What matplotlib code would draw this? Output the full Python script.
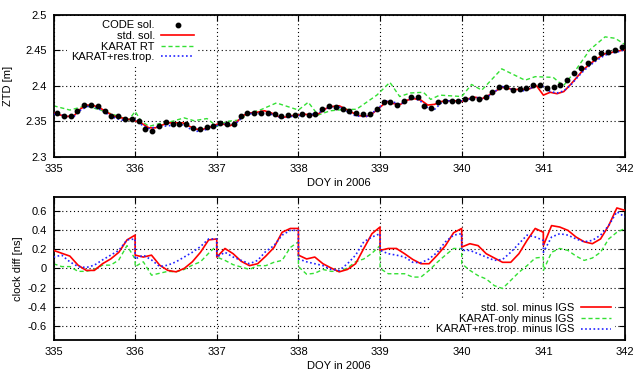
import numpy as np
import matplotlib
matplotlib.use('Agg')
import matplotlib.pyplot as plt
from matplotlib.ticker import FormatStrFormatter

plt.rcParams['font.family'] = ['Liberation Sans', 'DejaVu Sans']
plt.rcParams['font.size'] = 8

# ---- ZTD (top panel) ----
# CODE solution, every 2 hours (centred on odd hours)
code_t = 335 + (np.arange(84) + 0.5) / 12
code_ztd = [2.362, 2.358, 2.357, 2.365, 2.373, 2.373, 2.372, 2.365, 2.358, 2.357,
            2.354, 2.353, 2.350, 2.340, 2.336, 2.343, 2.349, 2.347, 2.347, 2.346,
            2.341, 2.340, 2.342, 2.344, 2.348, 2.347, 2.347, 2.358, 2.362, 2.362,
            2.362, 2.362, 2.360, 2.358, 2.359, 2.359, 2.360, 2.359, 2.360,
            2.367, 2.372, 2.370, 2.367, 2.364, 2.362, 2.361, 2.361, 2.368, 2.378,
            2.377, 2.373, 2.379, 2.385, 2.384, 2.372, 2.369, 2.377, 2.379, 2.379,
            2.379, 2.382, 2.383, 2.382, 2.385, 2.392, 2.398, 2.398, 2.394, 2.395,
            2.397, 2.401, 2.401, 2.397, 2.399, 2.401, 2.408, 2.418, 2.425, 2.432,
            2.439, 2.446, 2.448, 2.451, 2.455]

# standard solution and KARAT+res.trop., every 2 hours
std_t = 335 + np.arange(85) / 12
std_ztd = [2.362, 2.359, 2.357, 2.358, 2.368, 2.373, 2.372, 2.368, 2.362, 2.357,
           2.355, 2.353, 2.351, 2.347, 2.341, 2.341, 2.345, 2.348, 2.348, 2.348,
           2.343, 2.339, 2.339, 2.342, 2.346, 2.346, 2.344, 2.350, 2.359, 2.362,
           2.363, 2.365, 2.362, 2.357, 2.356, 2.358, 2.359, 2.360, 2.359, 2.361,
           2.368, 2.371, 2.372, 2.367, 2.362, 2.358, 2.357, 2.362, 2.370, 2.378,
           2.375, 2.374, 2.380, 2.382, 2.380, 2.373, 2.374, 2.378, 2.379, 2.379,
           2.378, 2.382, 2.384, 2.382, 2.387, 2.393, 2.398, 2.396, 2.395, 2.395,
           2.396, 2.400, 2.387, 2.391, 2.389, 2.392, 2.402, 2.413, 2.424, 2.432,
           2.439, 2.445, 2.447, 2.449, 2.451]
krt_ztd = [2.360, 2.360, 2.356, 2.357, 2.366, 2.371, 2.370, 2.366, 2.360, 2.355,
           2.352, 2.352, 2.352, 2.345, 2.340, 2.342, 2.343, 2.344, 2.345, 2.345,
           2.340, 2.336, 2.337, 2.341, 2.344, 2.347, 2.345, 2.349, 2.358, 2.361,
           2.361, 2.362, 2.360, 2.356, 2.355, 2.357, 2.358, 2.359, 2.360, 2.362,
           2.368, 2.370, 2.370, 2.365, 2.359, 2.357, 2.357, 2.363, 2.371, 2.379,
           2.377, 2.374, 2.380, 2.383, 2.378, 2.369, 2.367, 2.376, 2.379, 2.379,
           2.379, 2.381, 2.384, 2.382, 2.386, 2.393, 2.399, 2.396, 2.393, 2.393,
           2.396, 2.401, 2.399, 2.392, 2.390, 2.393, 2.401, 2.412, 2.422, 2.430,
           2.437, 2.443, 2.446, 2.448, 2.451]

# KARAT real time
rt_t = [335.0, 335.2, 335.4, 335.6, 335.8, 335.92, 336.0, 336.07, 336.17, 336.3,
        336.42, 336.6, 336.72, 336.88, 337.0, 337.12, 337.28, 337.4, 337.53, 337.73,
        338.0, 338.12, 338.24, 338.39, 338.59, 338.71, 338.96, 339.12, 339.24, 339.37,
        339.53, 339.62, 339.73, 340.0, 340.12, 340.245, 340.49, 340.775, 340.90, 341.12,
        341.245, 341.37, 341.57, 341.755, 341.88, 342.0]
rt_ztd = [2.372, 2.366, 2.372, 2.365, 2.357, 2.352, 2.364, 2.351, 2.343, 2.347,
          2.349, 2.355, 2.351, 2.354, 2.343, 2.350, 2.352, 2.362, 2.366, 2.376,
          2.366, 2.377, 2.359, 2.365, 2.367, 2.367, 2.387, 2.405, 2.385, 2.390,
          2.391, 2.381, 2.387, 2.385, 2.402, 2.394, 2.424, 2.408, 2.413, 2.412,
          2.400, 2.418, 2.451, 2.469, 2.467, 2.458]

# ---- clock differences (bottom panel), daily batches ----
days = range(335, 342)
clk_t = np.concatenate([d + np.append(np.arange(0, 1, 0.1), 0.999) for d in days])
std_clk = [0.19, 0.16, 0.13, 0.035, -0.02, -0.02, 0.05, 0.10, 0.17, 0.30, 0.35,
           0.14, 0.12, 0.14, 0.035, -0.02, -0.035, 0.0, 0.07, 0.17, 0.30, 0.31,
           0.12, 0.21, 0.155, 0.075, 0.03, 0.05, 0.13, 0.22, 0.38, 0.42, 0.42,
           0.14, 0.10, 0.12, 0.05, 0.005, -0.035, -0.01, 0.05, 0.21, 0.365, 0.435,
           0.19, 0.21, 0.21, 0.155, 0.095, 0.05, 0.05, 0.14, 0.24, 0.375, 0.42,
           0.225, 0.26, 0.24, 0.155, 0.11, 0.065, 0.065, 0.155, 0.295, 0.42, 0.38,
           0.24, 0.45, 0.435, 0.40, 0.33, 0.28, 0.26, 0.31, 0.45, 0.635, 0.61]
kar_clk = [0.05, 0.02, 0.02, -0.03, -0.03, -0.01, 0.035, 0.035, 0.09, 0.24, 0.10,
           0.02, 0.07, -0.07, -0.05, -0.03, -0.035, -0.01, 0.035, 0.07, 0.16, 0.24,
           0.12, 0.085, 0.04, 0.015, -0.01, 0.03, 0.03, 0.065, 0.085, 0.22, 0.28,
           0.02, -0.06, -0.05, -0.01, -0.03, -0.03, 0.005, 0.07, 0.10, 0.16, 0.24,
           0.0, -0.055, -0.055, -0.055, -0.09, -0.09, -0.02, 0.065, 0.14, 0.21, 0.21,
           0.05, -0.02, -0.075, -0.11, -0.18, -0.21, -0.125, -0.04, 0.03, 0.11, 0.12,
           -0.02, 0.17, 0.21, 0.19, 0.13, 0.085, 0.11, 0.17, 0.31, 0.38, 0.42]
krt_clk = [0.12, 0.14, 0.07, 0.02, 0.01, 0.035, 0.09, 0.14, 0.19, 0.30, 0.31,
           0.10, 0.14, 0.09, 0.02, 0.035, 0.07, 0.12, 0.17, 0.23, 0.31, 0.31,
           0.12, 0.17, 0.12, 0.085, 0.05, 0.085, 0.18, 0.24, 0.35, 0.40, 0.40,
           0.10, 0.07, 0.05, 0.03, -0.01, -0.02, 0.05, 0.14, 0.28, 0.33, 0.365,
           0.19, 0.155, 0.14, 0.12, 0.065, 0.06, 0.10, 0.17, 0.28, 0.35, 0.365,
           0.19, 0.19, 0.155, 0.12, 0.085, 0.095, 0.17, 0.26, 0.35, 0.33, 0.295,
           0.17, 0.33, 0.365, 0.35, 0.31, 0.28, 0.295, 0.35, 0.45, 0.595, 0.54]

RED = '#ff0000'
GREEN = '#33e033'
BLUE = '#2222ff'
grid_kw = dict(color='black', linestyle=(0, (1, 2.5)), linewidth=0.8)


def style_axes(ax):
    ax.set_xlim(335, 342)
    ax.set_xticks(range(335, 343))
    ax.tick_params(direction='in', top=True, right=True, length=4, width=0.8, pad=5)
    ax.grid(True, **grid_kw)
    for s in ax.spines.values():
        s.set_linewidth(1.3)
    ax.set_xlabel('DOY in 2006')


fig = plt.figure(figsize=(6.35, 3.71), dpi=100)

ax1 = fig.add_axes([0.0843, 0.577, 0.900, 0.383])
style_axes(ax1)
ax1.plot(code_t, code_ztd, 'o', color='black', ms=3.2, label='CODE sol.', zorder=4)
ax1.plot(std_t, std_ztd, color=RED, lw=1.2, label='std. sol.', zorder=3)
ax1.plot(rt_t, rt_ztd, color=GREEN, lw=1.0, dashes=(3, 2), label='KARAT RT', zorder=2)
ax1.plot(std_t, krt_ztd, color=BLUE, lw=1.2, dashes=(1, 1.5), label='KARAT+res.trop.', zorder=3)
ax1.set_ylim(2.3, 2.5)
ax1.set_yticks([2.3, 2.35, 2.4, 2.45, 2.5])
ax1.yaxis.set_major_formatter(FormatStrFormatter('%g'))
ax1.set_ylabel('ZTD [m]')
ax1.yaxis.set_label_coords(-0.071, 0.5)
ax1.xaxis.set_label_coords(0.5, -0.148)
leg1 = ax1.legend(loc='upper right', bbox_to_anchor=(0.255, 1.0), markerfirst=False,
                  frameon=True, fancybox=False, edgecolor='none', framealpha=1,
                  handlelength=2.9, labelspacing=0.05, borderpad=0.4, handletextpad=0.6,
                  borderaxespad=0.1)
leg1.set_zorder(10)

ax2 = fig.add_axes([0.0843, 0.0836, 0.900, 0.3854])
style_axes(ax2)
ax2.plot(clk_t, std_clk, color=RED, lw=1.2, label='std. sol. minus IGS', zorder=3)
ax2.plot(clk_t, kar_clk, color=GREEN, lw=1.0, dashes=(3, 2), label='KARAT-only minus IGS', zorder=2)
ax2.plot(clk_t, krt_clk, color=BLUE, lw=1.2, dashes=(1, 1.5), label='KARAT+res.trop. minus IGS', zorder=3)
ax2.set_ylim(-0.75, 0.75)
ax2.set_yticks([-0.6, -0.4, -0.2, 0, 0.2, 0.4, 0.6])
ax2.yaxis.set_major_formatter(FormatStrFormatter('%g'))
ax2.set_ylabel('clock diff [ns]')
ax2.yaxis.set_label_coords(-0.053, 0.5)
ax2.xaxis.set_label_coords(0.5, -0.148)
leg2 = ax2.legend(loc='lower right', bbox_to_anchor=(0.985, 0.0), markerfirst=False,
                  frameon=True, fancybox=False, edgecolor='none', framealpha=1,
                  handlelength=2.7, labelspacing=0.05, borderpad=0.4, handletextpad=0.6,
                  borderaxespad=0.1)
leg2.set_zorder(10)

fig.savefig('out.png', dpi=100)
